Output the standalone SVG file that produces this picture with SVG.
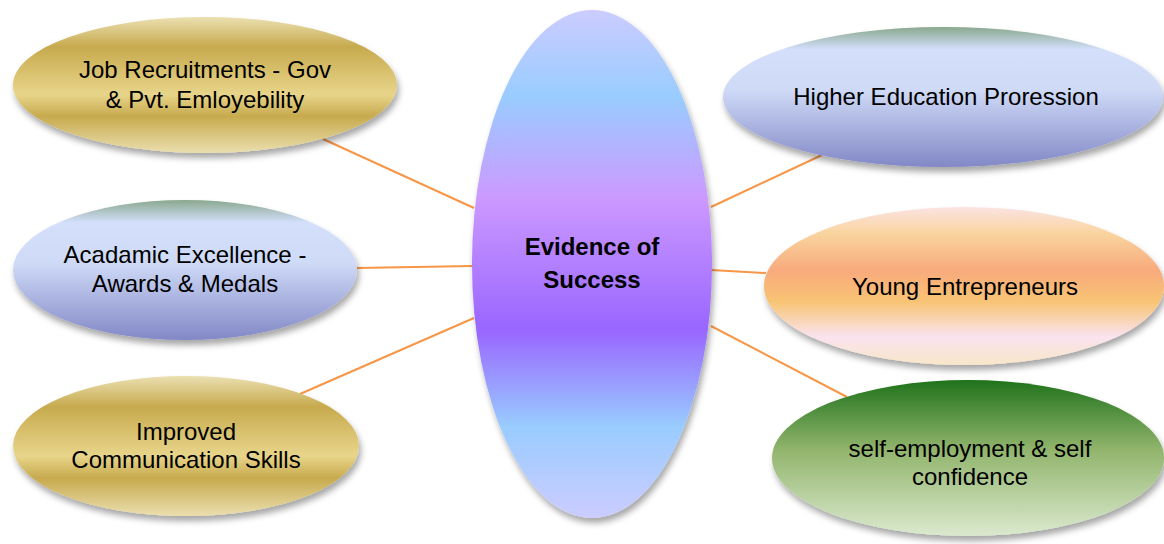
<svg xmlns="http://www.w3.org/2000/svg" width="1164" height="544" viewBox="0 0 1164 544">
<defs>
<filter id="sh" x="-10%" y="-10%" width="125%" height="130%">
<feDropShadow dx="2" dy="5" stdDeviation="3" flood-color="#000" flood-opacity="0.35"/>
</filter>
<linearGradient id="gold" x1="0" y1="0" x2="0" y2="1">
<stop offset="0" stop-color="#ebe0b2"/>
<stop offset="0.22" stop-color="#c7aa4e"/>
<stop offset="0.57" stop-color="#e8d58a"/>
<stop offset="0.73" stop-color="#c7aa4e"/>
<stop offset="1" stop-color="#ebdfae"/>
</linearGradient>
<linearGradient id="blue" x1="0" y1="0" x2="0" y2="1">
<stop offset="0" stop-color="#8aa88e"/>
<stop offset="0.16" stop-color="#d3dffb"/>
<stop offset="0.45" stop-color="#cfdaf7"/>
<stop offset="1" stop-color="#8288c6"/>
</linearGradient>
<linearGradient id="orange" x1="0" y1="0" x2="0" y2="1">
<stop offset="0" stop-color="#fbe3e3"/>
<stop offset="0.17" stop-color="#f9d49e"/>
<stop offset="0.4" stop-color="#f8aa7c"/>
<stop offset="0.6" stop-color="#f8c474"/>
<stop offset="0.82" stop-color="#fae3ef"/>
<stop offset="1" stop-color="#f8e6c8"/>
</linearGradient>
<linearGradient id="green" x1="0" y1="0" x2="0" y2="1">
<stop offset="0" stop-color="#1f721b"/>
<stop offset="0.45" stop-color="#92b56d"/>
<stop offset="1" stop-color="#dbe9ce"/>
</linearGradient>
<linearGradient id="center" x1="0" y1="0" x2="0" y2="1">
<stop offset="0" stop-color="#ccccff"/>
<stop offset="0.17" stop-color="#99ccff"/>
<stop offset="0.37" stop-color="#cc99ff"/>
<stop offset="0.63" stop-color="#9966ff"/>
<stop offset="0.82" stop-color="#99ccff"/>
<stop offset="1" stop-color="#ccccff"/>
</linearGradient>
</defs>
<style>
.conn line { stroke: #f79646; stroke-width: 2; }
.node ellipse { filter: url(#sh); }
.lbl { font-family: "Liberation Sans", Arial, sans-serif; font-size: 24px; fill: #000; text-anchor: middle; }
.ctr { font-family: "Liberation Sans", Arial, sans-serif; font-size: 24px; font-weight: bold; fill: #000; text-anchor: middle; }
</style>
<rect width="1164" height="544" fill="#fff"/>
<g id="connectors" class="conn">
<line x1="323" y1="139" x2="474" y2="208"/>
<line x1="357" y1="268" x2="473" y2="266"/>
<line x1="300" y1="394" x2="474" y2="318"/>
<line x1="711" y1="207" x2="822" y2="155"/>
<line x1="711" y1="270" x2="766" y2="273"/>
<line x1="711" y1="326" x2="847" y2="397"/>
</g>
<g id="node-center" class="node">
<ellipse cx="592" cy="264" rx="120" ry="254" fill="url(#center)"/>
<text class="ctr" x="592" y="255">Evidence of</text>
<text class="ctr" x="592" y="288">Success</text>
</g>
<g id="node-job" class="node">
<ellipse cx="205" cy="85" rx="192" ry="68" fill="url(#gold)"/>
<text class="lbl" x="205" y="78">Job Recruitments - Gov</text>
<text class="lbl" x="205" y="108">&amp; Pvt. Emloyebility</text>
</g>
<g id="node-academic" class="node">
<ellipse cx="185" cy="270" rx="172" ry="70" fill="url(#blue)"/>
<text class="lbl" x="185" y="263">Acadamic Excellence -</text>
<text class="lbl" x="185" y="292">Awards &amp; Medals</text>
</g>
<g id="node-communication" class="node">
<ellipse cx="186" cy="446" rx="173" ry="70" fill="url(#gold)"/>
<text class="lbl" x="186" y="440">Improved</text>
<text class="lbl" x="186" y="468">Communication Skills</text>
</g>
<g id="node-higher" class="node">
<ellipse cx="943" cy="97" rx="220" ry="70" fill="url(#blue)"/>
<text class="lbl" x="946" y="105">Higher Education Proression</text>
</g>
<g id="node-young" class="node">
<ellipse cx="964" cy="286" rx="200" ry="79" fill="url(#orange)"/>
<text class="lbl" x="965" y="295">Young Entrepreneurs</text>
</g>
<g id="node-self" class="node">
<ellipse cx="968" cy="458" rx="196" ry="78" fill="url(#green)"/>
<text class="lbl" x="970" y="457">self-employment &amp; self</text>
<text class="lbl" x="970" y="485">confidence</text>
</g>
</svg>
